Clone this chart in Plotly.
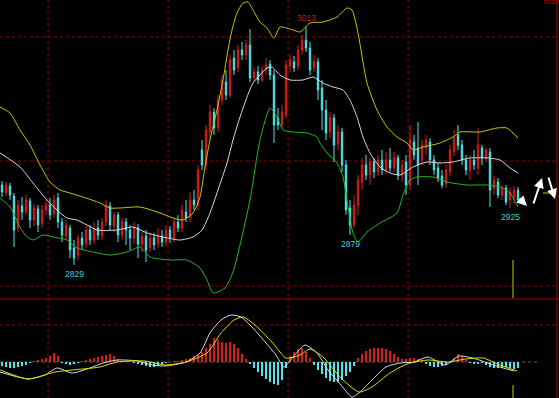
import plotly.graph_objects as go

W, H = 559, 398

# ---------------- price data (index points) ----------------
open_ = [2855, 2847, 2854, 2844, 2812, 2834, 2828, 2839, 2820, 2831,
         2816, 2830, 2835, 2826, 2842, 2818, 2804, 2812, 2792, 2785,
         2802, 2796, 2810, 2800, 2812, 2804, 2818, 2834, 2814, 2825,
         2805, 2818, 2810, 2802, 2812, 2796, 2804, 2792, 2802, 2796,
         2804, 2798, 2810, 2802, 2818, 2812, 2828, 2822, 2840, 2835,
         2890, 2875, 2908, 2928, 2912, 2940, 2958, 2945, 2982, 2972,
         2990, 2985, 2995, 2962, 2968, 2960, 2970, 2976, 2965, 2922,
         2915, 2925, 2974, 2978, 2974, 2990, 3000, 2992, 2972, 2978,
         2952, 2930, 2908, 2922, 2896, 2908, 2875, 2832, 2815, 2835,
         2858, 2875, 2865, 2878, 2868, 2880, 2870, 2880, 2872, 2882,
         2865, 2878, 2855, 2898, 2892, 2880, 2892, 2898, 2880, 2872,
         2864, 2856, 2868, 2888, 2905, 2895, 2880, 2870, 2880, 2872,
         2892, 2882, 2888, 2852, 2858, 2845, 2852, 2840, 2842, 2850]
high = [2859, 2858, 2857, 2847, 2840, 2843, 2845, 2842, 2836, 2835,
        2835, 2840, 2842, 2845, 2847, 2822, 2820, 2815, 2800, 2805,
        2808, 2814, 2815, 2818, 2820, 2822, 2840, 2838, 2828, 2828,
        2822, 2822, 2815, 2818, 2816, 2808, 2810, 2808, 2807, 2812,
        2810, 2815, 2814, 2822, 2825, 2835, 2840, 2848, 2850, 2875,
        2900, 2915, 2935, 2932, 2945, 2965, 2970, 2985, 2990, 2995,
        2998, 3000, 3011, 2972, 2974, 2974, 2982, 2980, 2970, 2932,
        2935, 2980, 2985, 2984, 2995, 3005, 3013, 2998, 2985, 2982,
        2960, 2940, 2928, 2926, 2915, 2912, 2880, 2840, 2845, 2865,
        2882, 2885, 2882, 2882, 2885, 2890, 2888, 2892, 2888, 2885,
        2880, 2885, 2915, 2905, 2918, 2900, 2905, 2902, 2885, 2878,
        2870, 2875, 2895, 2910, 2915, 2900, 2885, 2885, 2890, 2912,
        2895, 2892, 2892, 2864, 2862, 2855, 2855, 2852, 2854, 2853]
low = [2843, 2844, 2840, 2793, 2808, 2820, 2825, 2812, 2814, 2808,
       2812, 2825, 2820, 2822, 2812, 2798, 2800, 2782, 2775, 2780,
       2790, 2792, 2795, 2796, 2800, 2800, 2814, 2810, 2808, 2798,
       2800, 2795, 2790, 2796, 2782, 2788, 2778, 2788, 2790, 2792,
       2793, 2794, 2797, 2798, 2808, 2808, 2818, 2818, 2830, 2830,
       2870, 2870, 2902, 2905, 2908, 2935, 2940, 2942, 2965, 2968,
       2980, 2980, 2958, 2958, 2956, 2958, 2965, 2960, 2897, 2910,
       2912, 2922, 2968, 2968, 2970, 2985, 2988, 2965, 2968, 2940,
       2910, 2900, 2902, 2878, 2890, 2868, 2825, 2805, 2812, 2825,
       2850, 2860, 2855, 2862, 2864, 2865, 2866, 2868, 2868, 2860,
       2858, 2845, 2850, 2880, 2855, 2875, 2885, 2875, 2865, 2858,
       2852, 2852, 2864, 2884, 2890, 2875, 2865, 2860, 2870, 2865,
       2875, 2878, 2833, 2845, 2842, 2840, 2835, 2832, 2836, 2838]
close = [2848, 2855, 2845, 2810, 2835, 2828, 2840, 2820, 2832, 2815,
         2830, 2835, 2825, 2840, 2818, 2805, 2815, 2790, 2782, 2802,
         2795, 2810, 2800, 2812, 2805, 2818, 2835, 2815, 2825, 2805,
         2818, 2810, 2802, 2812, 2796, 2804, 2790, 2802, 2795, 2804,
         2798, 2810, 2802, 2818, 2812, 2830, 2822, 2840, 2835, 2870,
         2875, 2910, 2928, 2912, 2940, 2960, 2945, 2980, 2970, 2990,
         2985, 2995, 2962, 2968, 2960, 2970, 2975, 2965, 2915, 2915,
         2928, 2975, 2980, 2972, 2990, 3000, 2992, 2970, 2978, 2950,
         2930, 2907, 2922, 2895, 2908, 2875, 2830, 2815, 2835, 2860,
         2875, 2865, 2878, 2868, 2880, 2870, 2880, 2872, 2882, 2865,
         2875, 2855, 2900, 2885, 2875, 2895, 2900, 2880, 2870, 2862,
         2855, 2870, 2890, 2902, 2895, 2880, 2870, 2880, 2875, 2895,
         2882, 2890, 2850, 2860, 2845, 2852, 2838, 2848, 2850, 2840]
bar_idx = list(range(len(close)))

# Bollinger bands (bar index, value)
bb_up_idx = [-0.5, 2, 4.5, 7, 9.5, 12, 14.5, 17, 20.25, 24.5, 27, 29.5, 34.5, 39.5, 42.75,
             45.25, 47.75, 49.5, 50.75, 52, 53.75, 55.25, 56.5, 57.5, 58.75, 60.25, 61.5, 62.75,
             64.5, 66.25, 68, 69.5, 72.75, 74.5, 77, 80.25, 83.75, 86.25, 87.5, 89, 91.25, 93.75,
             96.25, 98.75, 101.25, 102.75, 105.25, 109.5, 112.75, 114.5, 119.5, 123.75, 126.25,
             127.75, 129]
bb_up = [2933, 2927, 2910, 2895, 2875, 2858, 2850, 2847, 2843, 2837, 2832, 2832, 2833, 2827, 2822,
         2820, 2827, 2843, 2873, 2900, 2930, 2960, 2990, 3010, 3027, 3037, 3038, 3030,
         3018, 3012, 3002, 3013, 3010, 3008, 3017, 3018, 3023, 3032, 3030, 3007, 2957, 2930,
         2913, 2903, 2897, 2890, 2893, 2897, 2903, 2908, 2908, 2912, 2912, 2907, 2902]
bb_mid_idx = [-0.5, 4.5, 7.75, 11.25, 13.75, 16.25, 18.75, 21.25, 23.75, 28.75, 32.75, 36.25,
              40.25, 44.5, 47.75, 50, 52, 54, 56.25, 57.75, 59.5, 61.25, 62.75, 64.5, 66.25, 67.5,
              69.5, 72, 75.25, 77.75, 80.25, 82.75, 85.25, 87, 88.75, 90.25, 92, 94.5, 97, 99.5,
              102.75, 106.25, 109.5, 112.75, 117, 121.25, 124.5, 127, 129]
bb_mid = [2887, 2873, 2857, 2840, 2830, 2822, 2820, 2815, 2810, 2810, 2813, 2807,
          2803, 2800, 2803, 2810, 2827, 2850, 2877, 2900, 2923, 2943, 2957, 2965, 2972, 2973,
          2965, 2960, 2960, 2963, 2957, 2953, 2950, 2940, 2923, 2903, 2887, 2873, 2867, 2865,
          2873, 2878, 2877, 2878, 2882, 2882, 2880, 2872, 2867]
bb_low_idx = [-0.5, 2, 4.5, 6.25, 7.75, 10.25, 12.75, 16.25, 18.75, 22.75, 27, 31.25, 34.5, 37,
              42, 46.25, 49.5, 51.25, 52.75, 55.75, 57.75, 59.5, 62, 64.5, 67, 68.75, 70.25,
              72.75, 76.25, 78.75, 79.5, 81.25, 83.75, 85.25, 86.5, 87.75, 89, 91.25, 94.5,
              98.75, 100.25, 102, 103.75, 107.75, 111.25, 116.25, 121.25, 125.25, 127, 129]
bb_low = [2842, 2833, 2813, 2803, 2800, 2805, 2803, 2800, 2792, 2788, 2785, 2788, 2793, 2783,
          2780, 2780, 2772, 2760, 2747, 2752, 2768, 2795, 2840, 2900, 2932, 2923, 2910,
          2908, 2907, 2903, 2897, 2887, 2877, 2863, 2833, 2807, 2798, 2808, 2817,
          2827, 2845, 2860, 2863, 2863, 2858, 2855, 2855, 2852, 2847, 2833]

# MACD
dif_idx = [-0.5, 6.5, 10.75, 13.75, 17.5, 22, 25.25, 28.75, 34, 37.5, 40.75, 46, 49.5, 52,
           54.75, 57.25, 59.75, 62.5, 66, 68.5, 70.5, 72.75, 75.75, 78.75, 81.5, 84.75, 87.5,
           89.25, 92.5, 96, 99.5, 103, 106.5, 110.75, 114.25, 118.5, 122.75, 128]
dif = [-5, -8.5, -6.5, -3, -5.5, -3, -0.5, 1, 0.5, -1.5, -2, 0, 4.5, 14.5,
       21, 23.5, 22.5, 17.5, 9.5, 3.5, -2.5, 2.5, 8.5, 4.5, -4, -11.5, -17.5,
       -15.5, -9, -2.5, -0.5, 0, 2.5, -1.5, 3, 1.5, -1.5, -4.5]
dea_idx = [-0.5, 6.5, 13.25, 17.5, 24.5, 28.75, 35.75, 40.75, 46, 51.25, 54.75, 58, 60.25,
           63.25, 67.5, 71, 74.5, 77, 80.5, 84.75, 89.25, 92.5, 97, 101.25, 106.5, 111.5, 116,
           120.25, 124.5, 128.75]
dea = [-4, -8.5, -5, -4, -2.5, 0, 0.5, -1.5, 0, 4.5, 14.5, 21, 22.5,
       18.5, 10, 2, 3.5, 6.5, 2, -8, -15, -12.5, -5.5, -1, 1, 0, 1.5,
       2, -1.5, -4.5]
macd_hist = [-2, -2.5, -3, -3, -2.5, -2, -1.5, -0.5,
             0.5, 1, 1.5, 2, 3, 4.5, 3,
             -0.5, -1, -1.5, -1, -0.5,
             0.5, 1, 1.5, 2,
             2.5, 3, 3.5, 4, 3, 1.5,
             0.5, 0.5, 0, -0.5, -1,
             -1.5, -2, -2.5, -2.5, -2, -1,
             -0.5, 0, 0.5, 0.5,
             1, 1.5, 2, 3, 4,
             5, 7, 9, 12, 11, 10, 9.5, 10, 9, 7, 4,
             1.5,
             -1, -3, -5, -7, -8.5, -10, -11, -11.5, -9,
             -3,
             3, 5, 6.5, 7, 5, 2,
             -1.5, -4, -6, -8, -9.5, -10, -10, -9, -7, -5, -2,
             2, 4, 5.5, 6.5, 7, 7, 7, 6.5, 5.5, 4, 2.5,
             1.5, 1.5, 2, 2, 1.5, 1,
             -1, -2, -2.5, -2.5, -2, -1.5, -0.5,
             2, 4, 3, 1,
             -0.5, -1, -1, -0.5,
             -1.5, -2.5, -3, -3, -3, -2.5, -3, -3.5, -3]

# extreme labels
label_idx = [76, 18, 87, 127]
label_text = ["3013", "2829", "2879", "2925"]

# ---------------- styles ----------------
RED = "#d41c1c"
CYAN = "#4fe6ec"
YELLOW = "#c8c800"
WHITE = "#d8d8e4"
GREEN = "#22b822"
GRID = "#8a0000"
MAIN_BOTTOM = 299  # px
SPLIT = 1 - MAIN_BOTTOM / H

fig = go.Figure()
fig.add_trace(go.Candlestick(
    x=bar_idx, open=open_, high=high, low=low, close=close,
    increasing=dict(line=dict(color=RED, width=1), fillcolor=RED),
    decreasing=dict(line=dict(color=CYAN, width=1), fillcolor=CYAN),
    whiskerwidth=0, hoverinfo="skip"))
for xs, ys, col in [(bb_up_idx, bb_up, YELLOW), (bb_mid_idx, bb_mid, WHITE), (bb_low_idx, bb_low, GREEN)]:
    fig.add_trace(go.Scatter(x=xs, y=ys, mode="lines",
                             line=dict(color=col, width=1, shape="spline", smoothing=0.6),
                             hoverinfo="skip"))

fig.add_trace(go.Bar(x=bar_idx, y=macd_hist, yaxis="y2", width=0.5,
                     marker=dict(color=[RED if v > 0 else CYAN for v in macd_hist], line=dict(width=0)),
                     hoverinfo="skip"))
fig.add_trace(go.Scatter(x=dif_idx, y=dif, yaxis="y2", mode="lines",
                         line=dict(color=WHITE, width=1, shape="spline", smoothing=0.6), hoverinfo="skip"))
fig.add_trace(go.Scatter(x=dea_idx, y=dea, yaxis="y2", mode="lines",
                         line=dict(color="#e0e000", width=1, shape="spline", smoothing=0.6), hoverinfo="skip"))


def px(x):
    return x / W


def py(y):
    return 1 - y / H


shapes = []
for gy in [37, 161, 286, 325]:
    shapes.append(dict(type="line", xref="paper", yref="paper", x0=0, x1=px(556), y0=py(gy), y1=py(gy),
                       line=dict(color=GRID, width=1, dash="dot"), layer="below"))
shapes.append(dict(type="line", xref="paper", yref="paper", x0=0, x1=px(540), y0=py(362), y1=py(362),
                   line=dict(color="#8a4a4a", width=1, dash="dot"), layer="below"))
for gx in [48, 168, 288, 408]:
    shapes.append(dict(type="line", xref="paper", yref="paper", x0=px(gx), x1=px(gx), y0=0, y1=1,
                       line=dict(color=GRID, width=1, dash="dot"), layer="below"))
shapes.append(dict(type="line", xref="paper", yref="paper", x0=0, x1=1, y0=py(299), y1=py(299),
                   line=dict(color="#b00000", width=1)))
shapes.append(dict(type="line", xref="paper", yref="paper", x0=px(557), x1=px(557), y0=0, y1=1,
                   line=dict(color="#b00000", width=1)))
shapes.append(dict(type="rect", xref="paper", yref="paper", x0=px(545), x1=px(558), y0=py(3), y1=py(0),
                   line=dict(color="#b00000", width=1)))
for y0, y1 in [(260, 298), (385, 398)]:
    shapes.append(dict(type="line", xref="paper", yref="paper", x0=px(513), x1=px(513), y0=py(y0), y1=py(y1),
                       line=dict(color=YELLOW, width=1)))
shapes.append(dict(type="line", xref="paper", yref="paper", x0=px(543), x1=px(552), y0=py(193), y1=py(193),
                   line=dict(color=YELLOW, width=1)))

annotations = []
for i, t in zip(label_idx, label_text):
    is_high = t == "3013"
    annotations.append(dict(
        x=i, y=high[i] if is_high else low[i], xref="x", yref="y", text=t, showarrow=False,
        yanchor="bottom" if is_high else "top", yshift=2 if is_high else -2,
        font=dict(family="Liberation Sans, Arial", size=8.5, color="#b82020" if is_high else "#48c8dc")))
# white arrows at the right edge
for hx, hy, ax, ay in [(527, 206, -9, -9), (542, 178, -9, 27), (555, 199, -7, -23)]:
    annotations.append(dict(x=px(hx), y=py(hy), xref="paper", yref="paper", ax=ax, ay=ay,
                            text="", showarrow=True, arrowhead=2, arrowsize=1, arrowwidth=2,
                            arrowcolor="white"))

fig.update_layout(
    width=W, height=H, margin=dict(l=0, r=0, t=0, b=0),
    paper_bgcolor="black", plot_bgcolor="black", showlegend=False,
    boxgap=0.5, bargap=0,
    xaxis=dict(range=[-0.5, (W - 2) / 4], visible=False, rangeslider=dict(visible=False), fixedrange=True),
    yaxis=dict(domain=[SPLIT, 1], range=[3040 - MAIN_BOTTOM, 3040], visible=False, fixedrange=True),
    yaxis2=dict(domain=[0, SPLIT], range=[-18, 31.5], visible=False, anchor="x", fixedrange=True),
    shapes=shapes, annotations=annotations,
)

fig.write_html("out.html")
